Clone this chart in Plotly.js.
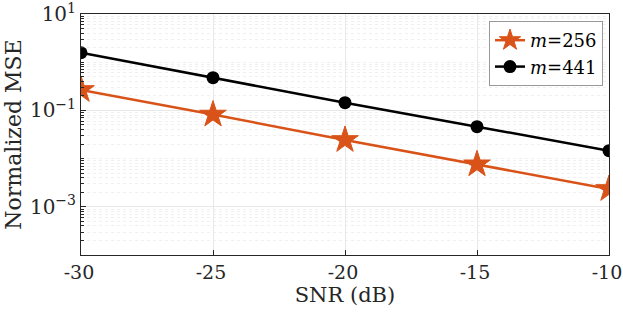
<!DOCTYPE html>
<html><head><meta charset="utf-8">
<script src="https://cdn.plot.ly/plotly-3.0.1.min.js"></script>
<style>html,body{margin:0;padding:0;background:#fff}#c{width:623px;height:319px}</style>
</head><body><div id="c"></div>
<script>
const snr = [-30, -25, -20, -15, -10];
const mse256 = [0.265, 0.082, 0.0243, 0.0076, 0.00234];
const mse441 = [1.57, 0.477, 0.1445, 0.0459, 0.0146];
const xTickVals = [-30, -25, -20, -15, -10];
const xTickText = ["-30", "-25", "-20", "-15", "-10"];
const yTickVals = [10, 0.1, 0.001];
const yTickText = ["10<sup>1</sup>", "10<sup>\u22121</sup>", "10<sup>\u22123</sup>"];
const labels = ["<i>m</i>=256", "<i>m</i>=441"];

const font = "DejaVu Serif";
const traces = [
  {x: snr, y: mse256, name: labels[0], mode: "lines+markers",
   line: {color: "#D95319", width: 2.5},
   marker: {symbol: "star", size: 20, color: "#D95319", line: {color: "#D95319", width: 1}}},
  {x: snr, y: mse441, name: labels[1], mode: "lines+markers",
   line: {color: "#000000", width: 2.5},
   marker: {symbol: "circle", size: 13, color: "#000000"}}
];
const layout = {
  width: 623, height: 319,
  margin: {l: 81, r: 14, t: 14, b: 64},
  paper_bgcolor: "#fff", plot_bgcolor: "#fff",
  font: {family: font, color: "#262626", size: 20},
  showlegend: true,
  legend: {x: 0.9886, y: 0.971, xanchor: "right", yanchor: "top", bgcolor: "#fff",
    bordercolor: "#999", borderwidth: 1, font: {family: font, size: 18, color: "#000"},
    tracegroupgap: 0, itemwidth: 30},
  xaxis: {range: [-30, -10], tickvals: xTickVals, ticktext: xTickText,
    showline: true, mirror: true, linecolor: "#262626", linewidth: 1,
    ticks: "inside", ticklen: 5, tickcolor: "#262626", ticklabeloverflow: "allow",
    ticklabelshift: -2,
    showgrid: true, gridcolor: "#e8e8e8", gridwidth: 1, zeroline: false,
    tickfont: {family: font, size: 19},
    title: {text: "SNR (dB)", font: {family: font, size: 21}, standoff: 5}},
  yaxis: {type: "log", range: [-4, 1], tickvals: yTickVals, ticktext: yTickText,
    showline: true, mirror: true, linecolor: "#262626", linewidth: 1,
    ticks: "inside", ticklen: 5, tickcolor: "#262626", ticklabeloverflow: "allow",
    showgrid: true, gridcolor: "#e8e8e8", gridwidth: 1, zeroline: false,
    minor: {dtick: "D1", showgrid: true, gridcolor: "#f0f0f0", griddash: "dot", ticks: "inside", ticklen: 3, tickcolor: "#262626"},
    tickfont: {family: font, size: 20},
    title: {text: "Normalized MSE", font: {family: font, size: 22}, standoff: 2}}
};
Plotly.newPlot("c", traces, layout, {displayModeBar: false, staticPlot: true});
</script></body></html>
